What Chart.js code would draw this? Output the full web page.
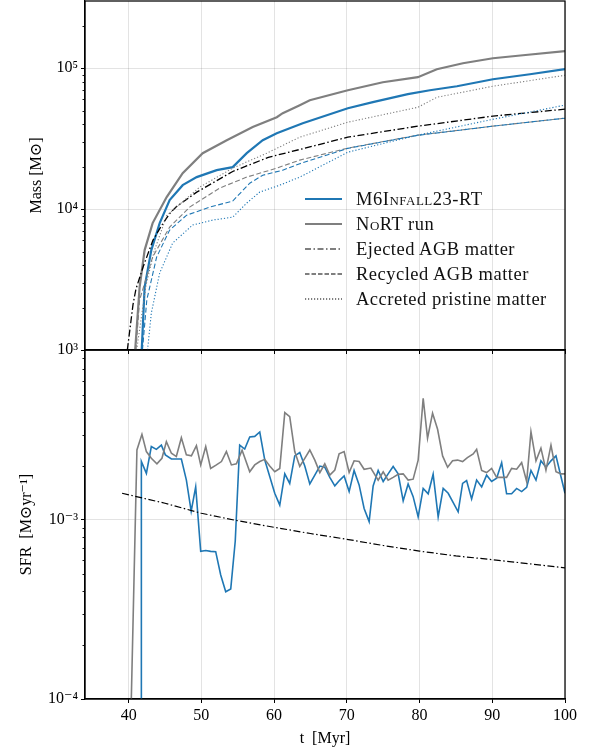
<!DOCTYPE html>
<html><head><meta charset="utf-8">
<script src="https://cdn.jsdelivr.net/npm/chart.js@4.4.0/dist/chart.umd.min.js"></script>
<style>
html,body{margin:0;padding:0;background:#fff;}
#wrap{position:relative;width:592px;height:754px;overflow:hidden;background:#fff;}
#c1{position:absolute;left:0;top:0;}
#c2{position:absolute;left:0;top:345px;}
#legend{position:absolute;left:305px;top:0;font-family:'Liberation Serif',serif;font-size:18.5px;letter-spacing:0.5px;color:#111;}
.row{position:absolute;left:0;height:25px;display:flex;align-items:center;white-space:nowrap;}
.row svg{margin-right:14px;flex:none;}
.sc{font-variant:small-caps;}
</style></head>
<body><div id="wrap">
<canvas id="c1" width="592" height="360"></canvas>
<canvas id="c2" width="592" height="409"></canvas>
<div id="legend"></div>
</div>
<script>
// ---------- x axis ----------
const xTicks = [40, 50, 60, 70, 80, 90, 100];
// ---------- top panel: mass ----------
const massTicks = [1e3, 1e4, 1e5];
const massTickLabels = ['10³', '10⁴', '10⁵'];
// RT run total stellar mass
const rtMass_t = [41.8, 42.2, 43.12, 44.27, 45.64, 47.43, 49.36, 52.11, 54.31, 56.24, 58.44, 60.37, 62.15, 63.94, 70.14, 73.58, 78.39, 81.42, 85.14, 90.09, 95.18, 100];
const rtMass   = [1000, 2800, 5120, 7960, 11590, 14790, 16870, 18920, 19860, 24950, 30830, 34590, 37500, 40740, 52000, 57400, 65450, 69800, 74500, 83500, 90600, 98400];
// NoRT run total stellar mass
const nortMass_t = [40.9, 41.51, 42.2, 43.3, 45.23, 47.43, 50.18, 53.49, 57.06, 60.37, 61.19, 63.53, 64.91, 70.14, 74.95, 79.77, 82.38, 85.96, 90.09, 94.22, 100];
const nortMass   = [1000, 2800, 5120, 7960, 12170, 17990, 24950, 30830, 38200, 44870, 47950, 54700, 59240, 69780, 79560, 86340, 98390, 108400, 117700, 123600, 132200];
// Ejected AGB matter
const ejMass_t = [39.82, 40.6, 41.0, 42.0, 43.35, 44.5, 45.64, 46.56, 49.36, 54.31, 59.2, 63.53, 70.14, 79.77, 90.09, 100];
const ejMass   = [1000, 2100, 2700, 3900, 6030, 7600, 9300, 10400, 13200, 18500, 23300, 26500, 32400, 38800, 45700, 51200];
// Recycled AGB matter (NoRT grey, RT blue)
const recNoRT_t = [41.0, 41.51, 43.3, 45.64, 48.39, 52.52, 56.24, 60.37, 63.53, 70.14, 79.77, 90.09, 100];
const recNoRT   = [1000, 2270, 4570, 7450, 10330, 14100, 16870, 19540, 22280, 27100, 33500, 38800, 44200];
const recRT_t = [41.9, 42.5, 43.85, 45.64, 47.98, 51.15, 54.31, 56.65, 58.44, 61.19, 63.53, 70.14, 79.77, 90.09, 100];
const recRT   = [1000, 2270, 4570, 7100, 9060, 10330, 11400, 15280, 17400, 18900, 21000, 27000, 33400, 38800, 44200];
// Accreted pristine matter (NoRT grey, RT blue)
const accNoRT_t = [41.1, 42.4, 43.5, 45.23, 49.77, 54.31, 58.99, 63.53, 70.14, 79.77, 82.38, 90.09, 100];
const accNoRT   = [1000, 2900, 5000, 9000, 14320, 19540, 24950, 32400, 41400, 52800, 62200, 74500, 89100];
const accRT_t = [42.6, 43.12, 44.27, 46.05, 48.8, 51.56, 54.31, 56.24, 58.03, 60.78, 63.53, 70.14, 79.77, 90.09, 100];
const accRT   = [1000, 1830, 3520, 5740, 7710, 8360, 8770, 11040, 13210, 14790, 16870, 25350, 33500, 43400, 54700];

// ---------- bottom panel: SFR ----------
const sfrTicks = [1e-4, 1e-3];
const sfrTickLabels = ['10⁻⁴', '10⁻³'];
const sfrRT_t = [41.75, 41.75, 42.44, 43.12, 43.81, 44.50, 45.05, 45.88, 46.54, 47.25, 47.94, 48.60, 49.22, 49.91, 50.60, 51.28, 51.97, 52.66, 53.35, 54.04, 54.66, 55.27, 55.96, 56.65, 57.34, 58.03, 58.72, 59.40, 60.09, 60.78, 61.47, 62.15, 62.84, 63.53, 64.22, 64.91, 65.60, 66.29, 66.97, 67.66, 68.35, 69.04, 69.63, 70.32, 71.00, 71.69, 72.38, 73.07, 73.62, 74.31, 75.00, 75.68, 76.37, 77.06, 77.75, 78.43, 79.12, 79.81, 80.50, 81.19, 81.87, 82.56, 83.25, 83.94, 84.63, 85.31, 85.92, 86.47, 87.16, 87.85, 88.54, 89.22, 89.91, 90.60, 91.29, 91.97, 92.66, 93.35, 94.04, 94.73, 95.32, 96.01, 96.69, 97.38, 98.07, 98.76, 99.44, 100];
const sfrRT = [1e-6, 2.12e-3, 1.82e-3, 2.57e-3, 2.48e-3, 2.62e-3, 2.31e-3, 2.19e-3, 2.19e-3, 2.19e-3, 1.67e-3, 1.12e-3, 1.53e-3, 6.68e-4, 6.75e-4, 6.68e-4, 6.65e-4, 4.93e-4, 3.97e-4, 4.12e-4, 7.63e-4, 2.62e-3, 2.49e-3, 2.91e-3, 2.93e-3, 3.10e-3, 2.16e-3, 1.75e-3, 1.41e-3, 1.21e-3, 1.81e-3, 1.60e-3, 2.28e-3, 2.38e-3, 2.00e-3, 1.59e-3, 1.78e-3, 2.00e-3, 1.97e-3, 1.73e-3, 1.55e-3, 1.67e-3, 1.76e-3, 1.44e-3, 1.89e-3, 1.57e-3, 1.16e-3, 9.8e-4, 1.55e-3, 1.89e-3, 1.64e-3, 1.81e-3, 1.99e-3, 1.81e-3, 1.28e-3, 1.59e-3, 1.35e-3, 1.04e-3, 1.50e-3, 1.40e-3, 1.80e-3, 1.04e-3, 1.50e-3, 1.41e-3, 1.25e-3, 1.11e-3, 1.60e-3, 1.66e-3, 1.31e-3, 1.67e-3, 1.53e-3, 1.78e-3, 1.64e-3, 1.71e-3, 2.09e-3, 1.40e-3, 1.40e-3, 1.50e-3, 1.44e-3, 1.52e-3, 1.89e-3, 1.67e-3, 2.14e-3, 1.97e-3, 2.14e-3, 2.28e-3, 1.75e-3, 1.41e-3];
const sfrNoRT_t = [40.2, 41.14, 41.83, 42.44, 43.12, 43.89, 44.58, 45.19, 45.88, 46.56, 47.25, 47.94, 48.63, 49.32, 49.91, 50.60, 51.28, 52.07, 52.76, 53.44, 54.13, 54.82, 55.6, 56.65, 57.34, 58.03, 58.72, 59.40, 60.09, 60.78, 61.47, 62.15, 62.84, 63.53, 64.22, 64.91, 65.60, 66.29, 66.97, 67.66, 68.35, 68.94, 69.63, 70.32, 71.0, 71.69, 72.38, 73.3, 74.31, 75.0, 75.68, 76.37, 77.06, 77.75, 78.43, 79.12, 79.81, 80.50, 81.10, 81.79, 82.48, 83.17, 83.86, 84.54, 85.23, 85.92, 86.58, 87.38, 87.85, 88.54, 89.22, 89.91, 90.60, 91.29, 91.97, 92.66, 93.35, 94.04, 94.73, 95.32, 96.01, 96.69, 97.38, 98.07, 98.76, 99.44, 100];
const sfrNoRT = [5e-5, 2.46e-3, 3.01e-3, 2.41e-3, 2.21e-3, 2.06e-3, 2.21e-3, 2.74e-3, 2.36e-3, 2.26e-3, 2.88e-3, 2.31e-3, 2.28e-3, 2.60e-3, 2.03e-3, 2.57e-3, 1.94e-3, 2.03e-3, 2.12e-3, 2.41e-3, 2.03e-3, 2.06e-3, 2.45e-3, 1.86e-3, 2.03e-3, 2.12e-3, 2.18e-3, 2.00e-3, 1.86e-3, 1.94e-3, 3.98e-3, 3.78e-3, 2.41e-3, 1.99e-3, 2.21e-3, 2.46e-3, 2.16e-3, 1.84e-3, 2.06e-3, 1.78e-3, 1.90e-3, 2.34e-3, 2.41e-3, 1.84e-3, 2.14e-3, 2.12e-3, 1.92e-3, 1.95e-3, 1.67e-3, 1.86e-3, 1.67e-3, 1.73e-3, 1.80e-3, 1.81e-3, 1.67e-3, 1.69e-3, 2.16e-3, 4.78e-3, 2.86e-3, 3.95e-3, 3.21e-3, 2.28e-3, 1.97e-3, 2.14e-3, 2.16e-3, 2.12e-3, 2.23e-3, 2.34e-3, 2.48e-3, 1.89e-3, 1.84e-3, 1.94e-3, 1.73e-3, 1.73e-3, 1.73e-3, 1.94e-3, 1.92e-3, 2.09e-3, 1.64e-3, 3.11e-3, 2.14e-3, 2.52e-3, 1.90e-3, 2.62e-3, 1.86e-3, 1.81e-3, 1.81e-3];
const sfrAGB_t = [39.1, 45, 50, 55, 60, 65, 70, 75, 80, 85, 90, 95, 100];
const sfrAGB   = [1.41e-3, 1.24e-3, 1.09e-3, 9.9e-4, 9.1e-4, 8.4e-4, 7.8e-4, 7.2e-4, 6.7e-4, 6.3e-4, 6.0e-4, 5.7e-4, 5.4e-4];

// ---------- styling ----------
const BLUE = '#1f77b4', GREY = '#7f7f7f', BLACK = '#000';
const FONT = "'Liberation Serif', 'DejaVu Serif', serif";
const GRIDC = 'rgba(0,0,0,0.11)';
Chart.defaults.color = '#000';
Chart.defaults.font.family = FONT;

const xy = (t, v) => t.map((x, i) => ({x: x, y: v[i]}));
const line = (label, t, v, color, width, dash) => ({
  label, data: xy(t, v), borderColor: color, backgroundColor: color,
  borderWidth: width, borderDash: dash || [], pointRadius: 0, tension: 0, fill: false
});

const frame = {id: 'frame', afterDraw(chart) {
  const {ctx, chartArea: a} = chart;
  ctx.save(); ctx.strokeStyle = '#000'; ctx.lineWidth = 1.25;
  ctx.strokeRect(a.left, a.top, a.right - a.left, a.bottom - a.top);
  ctx.restore();
}};
const minor = {id: 'minor', afterDraw(chart) {
  const s = chart.scales.y, ctx = chart.ctx;
  ctx.save(); ctx.strokeStyle = '#000'; ctx.lineWidth = 0.9;
  for (let e = Math.floor(Math.log10(s.min)); e <= Math.ceil(Math.log10(s.max)); e++) {
    for (let k = 2; k <= 9; k++) {
      const v = k * Math.pow(10, e);
      if (v <= s.min || v >= s.max) continue;
      const y = Math.round(s.getPixelForValue(v)) + 0.5;
      ctx.beginPath(); ctx.moveTo(s.right, y); ctx.lineTo(s.right - 2.5, y); ctx.stroke();
    }
  }
  ctx.restore();
}};

function xScale(showLabels, h) {
  return {
    type: 'linear', min: 34, max: 100, position: 'bottom',
    afterBuildTicks: s => { s.ticks = xTicks.map(v => ({value: v})); },
    afterFit: s => { s.height = h; s.paddingLeft = 0; s.paddingRight = 0; },
    ticks: {display: showLabels, padding: 3, font: {size: 16, family: FONT}, maxRotation: 0},
    grid: {color: GRIDC, lineWidth: 1, tickColor: '#000', tickLength: 4, tickWidth: 1},
    border: {display: true, color: '#000', width: 1.25},
    title: showLabels ? {display: true, text: 't  [Myr]', font: {size: 16, family: FONT}, padding: {top: 0, bottom: 6}} : {display: false}
  };
}
function yScale(min, max, ticks, labels, title, titlePad) {
  return {
    type: 'logarithmic', min, max,
    afterBuildTicks: s => { s.ticks = ticks.map(v => ({value: v})); },
    afterFit: s => { s.width = 85; s.paddingTop = 0; s.paddingBottom = 0; },
    ticks: {padding: 3, font: {size: 16, family: FONT},
      callback: v => { const i = ticks.findIndex(t => Math.abs(t - v) / t < 1e-6); return i >= 0 ? labels[i] : ''; }},
    grid: {color: GRIDC, lineWidth: 1, tickColor: '#000', tickLength: 4, tickWidth: 1},
    border: {display: true, color: '#000', width: 1.25},
    title: {display: true, text: title, font: {size: 16, family: FONT}, padding: {top: titlePad, bottom: 0}}
  };
}

new Chart(document.getElementById('c1'), {
  type: 'line',
  data: {datasets: [
    line('Accreted pristine matter (RT)', accRT_t, accRT, BLUE, 1.1, [1.2, 2]),
    line('Accreted pristine matter (NoRT)', accNoRT_t, accNoRT, GREY, 1.1, [1.2, 2]),
    line('Recycled AGB matter (RT)', recRT_t, recRT, BLUE, 1.1, [5, 2.5]),
    line('Recycled AGB matter (NoRT)', recNoRT_t, recNoRT, GREY, 1.1, [5, 2.5]),
    line('Ejected AGB matter', ejMass_t, ejMass, BLACK, 1.3, [7, 2.5, 1.5, 2.5]),
    line('NoRT run', nortMass_t, nortMass, GREY, 2.2),
    line('M6Infall23-RT', rtMass_t, rtMass, BLUE, 2.2)
  ]},
  options: {
    responsive: false, animation: false, events: [],
    layout: {padding: {left: 0, right: 27, top: 1, bottom: 0}},
    plugins: {legend: {display: false}, tooltip: {enabled: false}},
    scales: {x: xScale(false, 10), y: yScale(1e3, 3e5, massTicks, massTickLabels, 'Mass [M⊙]', 27)}
  },
  plugins: [frame, minor]
});

new Chart(document.getElementById('c2'), {
  type: 'line',
  data: {datasets: [
    line('Ejected AGB matter', sfrAGB_t, sfrAGB, BLACK, 1.2, [7, 2.5, 1.5, 2.5]),
    line('NoRT run', sfrNoRT_t, sfrNoRT, GREY, 1.6),
    line('M6Infall23-RT', sfrRT_t, sfrRT, BLUE, 1.6)
  ]},
  options: {
    responsive: false, animation: false, events: [],
    layout: {padding: {left: 0, right: 27, top: 5, bottom: 0}},
    plugins: {legend: {display: false}, tooltip: {enabled: false}},
    scales: {x: xScale(true, 55), y: yScale(1e-4, 8.9e-3, sfrTicks, sfrTickLabels, 'SFR  [M⊙yr⁻¹]', 17)}
  },
  plugins: [frame, minor]
});

// ---------- legend (HTML text) ----------
const legendItems = [
  {html: 'M6I<span class="sc">nfall</span>23-RT', color: BLUE, w: 2.2, dash: ''},
  {html: 'N<span class="sc">o</span>RT run', color: GREY, w: 2.2, dash: ''},
  {html: 'Ejected AGB matter', color: BLACK, w: 1.2, dash: '6 2.5 1.5 2.5'},
  {html: 'Recycled AGB matter', color: BLACK, w: 1.2, dash: '4.5 2'},
  {html: 'Accreted pristine matter', color: BLACK, w: 1.1, dash: '1.2 1.8'}
];
const legendRowCenters = [199, 224, 249, 274, 299];
const lg = document.getElementById('legend');
legendItems.forEach((it, i) => {
  const r = document.createElement('div');
  r.className = 'row';
  r.style.top = (legendRowCenters[i] - 12.5) + 'px';
  r.innerHTML = '<svg width="37" height="8"><line x1="0" y1="4" x2="37" y2="4" stroke="' + it.color +
    '" stroke-width="' + it.w + '"' + (it.dash ? ' stroke-dasharray="' + it.dash + '"' : '') + '/></svg><span>' + it.html + '</span>';
  lg.appendChild(r);
});
</script>
</body></html>
